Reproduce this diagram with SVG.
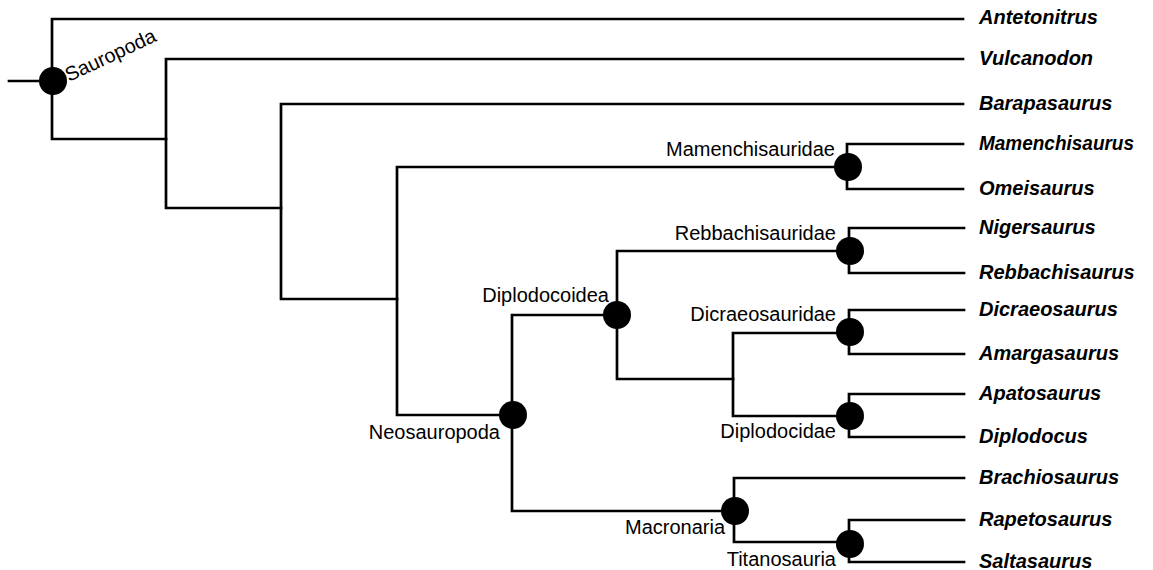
<svg xmlns="http://www.w3.org/2000/svg" width="1153" height="570" viewBox="0 0 1153 570">
  <style>
    .br { fill: none; stroke: #000; stroke-width: 2.7; stroke-linecap: square; stroke-linejoin: miter; }
    .nd { fill: #000; }
    .clade { font-family: "Liberation Sans", Arial, sans-serif; font-size: 20px; fill: #000; }
    .taxon { font-family: "Liberation Sans", Arial, sans-serif; font-size: 20px; font-weight: bold; font-style: italic; fill: #000; }
  </style>
  <rect width="1153" height="570" fill="#fff"/>

  <!-- branches of the tree -->
  <g id="connectors">
    <path class="br" d="M9,81 H52 M52,19 V139 M52,19 H963 M52,139 H166"/>
    <path class="br" d="M166,59 V208 M166,59 H963 M166,208 H281"/>
    <path class="br" d="M281,104 V299 M281,104 H963 M281,299 H397"/>
    <path class="br" d="M397,167 V415 M397,167 H847 M397,415 H512"/>
    <path class="br" d="M847,144 V189 M847,144 H963 M847,189 H963"/>
    <path class="br" d="M512,315 V511 M512,315 H617 M512,511 H734"/>
    <path class="br" d="M617,251 V379 M617,251 H849 M617,379 H733"/>
    <path class="br" d="M849,228 V273 M849,228 H964 M849,273 H964"/>
    <path class="br" d="M733,333 V416 M733,333 H849 M733,416 H849"/>
    <path class="br" d="M849,310 V354 M849,310 H964 M849,354 H964"/>
    <path class="br" d="M849,394 V437 M849,394 H964 M849,437 H964"/>
    <path class="br" d="M734,478 V542 M734,478 H964 M734,542 H849"/>
    <path class="br" d="M849,520 V562 M849,520 H964 M849,562 H964"/>
  </g>

  <!-- named clades -->
  <g id="sauropoda">
    <circle class="nd" cx="53" cy="81" r="14"/>
    <text class="clade" transform="translate(69,82) rotate(-25)">Sauropoda</text>
  </g>
  <g id="mamenchisauridae">
    <circle class="nd" cx="848" cy="167" r="14"/>
    <text class="clade" x="835" y="156" text-anchor="end">Mamenchisauridae</text>
  </g>
  <g id="neosauropoda">
    <circle class="nd" cx="513" cy="415" r="14"/>
    <text class="clade" x="500" y="439" text-anchor="end">Neosauropoda</text>
  </g>
  <g id="diplodocoidea">
    <circle class="nd" cx="617" cy="315" r="14"/>
    <text class="clade" x="609" y="302" text-anchor="end">Diplodocoidea</text>
  </g>
  <g id="rebbachisauridae">
    <circle class="nd" cx="850" cy="251" r="14"/>
    <text class="clade" x="836" y="240" text-anchor="end">Rebbachisauridae</text>
  </g>
  <g id="dicraeosauridae">
    <circle class="nd" cx="850" cy="332" r="14"/>
    <text class="clade" x="836" y="321" text-anchor="end">Dicraeosauridae</text>
  </g>
  <g id="diplodocidae">
    <circle class="nd" cx="850" cy="416" r="14"/>
    <text class="clade" x="836" y="438" text-anchor="end">Diplodocidae</text>
  </g>
  <g id="macronaria">
    <circle class="nd" cx="735" cy="511" r="14"/>
    <text class="clade" x="625" y="534">Macronaria</text>
  </g>
  <g id="titanosauria">
    <circle class="nd" cx="850" cy="544" r="14"/>
    <text class="clade" x="836" y="566" text-anchor="end">Titanosauria</text>
  </g>

  <!-- terminal taxa -->
  <g id="taxa">
    <text class="taxon" x="979" y="24">Antetonitrus</text>
    <text class="taxon" x="979" y="65">Vulcanodon</text>
    <text class="taxon" x="979" y="110">Barapasaurus</text>
    <text class="taxon" x="979" y="150" textLength="155" lengthAdjust="spacingAndGlyphs">Mamenchisaurus</text>
    <text class="taxon" x="979" y="195">Omeisaurus</text>
    <text class="taxon" x="979" y="234">Nigersaurus</text>
    <text class="taxon" x="979" y="279">Rebbachisaurus</text>
    <text class="taxon" x="979" y="316">Dicraeosaurus</text>
    <text class="taxon" x="979" y="360">Amargasaurus</text>
    <text class="taxon" x="979" y="400">Apatosaurus</text>
    <text class="taxon" x="979" y="443">Diplodocus</text>
    <text class="taxon" x="979" y="484">Brachiosaurus</text>
    <text class="taxon" x="979" y="526">Rapetosaurus</text>
    <text class="taxon" x="979" y="568">Saltasaurus</text>
  </g>
</svg>
